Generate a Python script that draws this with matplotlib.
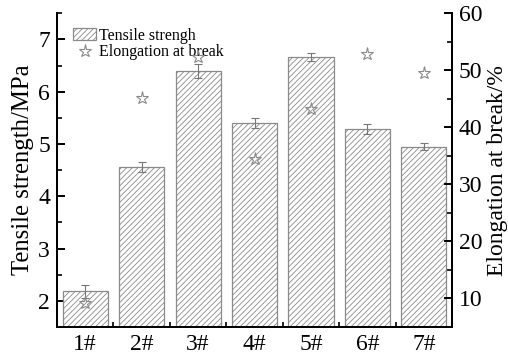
import matplotlib
matplotlib.use("Agg")
import matplotlib.pyplot as plt
from matplotlib.ticker import MultipleLocator, FixedLocator

plt.rcParams['font.family'] = ['Liberation Serif', 'DejaVu Serif']
plt.rcParams['hatch.color'] = '#8a8a8a'
plt.rcParams['hatch.linewidth'] = 0.6

samples = ['1#', '2#', '3#', '4#', '5#', '6#', '7#']
tensile = [2.18, 4.56, 6.40, 5.40, 6.67, 5.29, 4.95]
tensile_err = [0.12, 0.09, 0.14, 0.10, 0.08, 0.10, 0.07]
elongation = [9.2, 45.1, 52.4, 34.4, 43.3, 52.8, 49.6]

fig = plt.figure(figsize=(5.08, 3.55), dpi=100)
ax = fig.add_axes([0.1122, 0.0789, 0.7776, 0.8836])
ax2 = ax.twinx()

x = list(range(len(samples)))
bars = ax.bar(x, tensile, width=0.8, facecolor='white', edgecolor='#8a8a8a',
              linewidth=0.9, hatch='//////', label='Tensile strengh', zorder=2)
ax.errorbar(x, tensile, yerr=tensile_err, fmt='none', ecolor='#777777',
            elinewidth=0.8, capsize=3, capthick=0.8, zorder=3)

stars, = ax2.plot(x, elongation, linestyle='none', marker='*', markersize=9.5,
                  markerfacecolor='none', markeredgecolor='#8a8a8a',
                  markeredgewidth=0.8, label='Elongation at break', zorder=4)

ax.set_xlim(-0.5, 6.5)
ax.set_ylim(1.5, 7.5)
ax2.set_ylim(5, 60)

ax.set_xticks(x)
ax.set_xticklabels(samples)
ax.xaxis.set_minor_locator(FixedLocator([i + 0.5 for i in range(6)]))
ax.yaxis.set_major_locator(MultipleLocator(1))
ax.yaxis.set_minor_locator(MultipleLocator(0.5))
ax2.yaxis.set_major_locator(MultipleLocator(10))
ax2.yaxis.set_minor_locator(MultipleLocator(5))
ax2.set_yticks([10, 20, 30, 40, 50, 60])

for a in (ax, ax2):
    a.spines['top'].set_visible(False)
    for s in a.spines.values():
        s.set_linewidth(1.4)
    a.tick_params(which='major', direction='in', length=6, width=1.4,
                  labelsize=17)
    a.tick_params(which='minor', direction='in', length=3.5, width=1.2)
ax.tick_params(axis='y', right=False, which='both', pad=5)
ax.tick_params(axis='x', top=False, which='both', pad=5)
ax2.tick_params(axis='y', which='both', pad=5)
ax2.tick_params(axis='x', which='both', top=False, bottom=False)

ax.set_ylabel('Tensile strength/MPa', fontsize=17.8, labelpad=3)
ax2.set_ylabel('Elongation at break/%', fontsize=17, labelpad=3)

ax.legend([bars, stars], ['Tensile strengh', 'Elongation at break'],
          loc='upper left', bbox_to_anchor=(0.017, 0.985), frameon=False,
          fontsize=11.5, handlelength=1.45, handleheight=0.7,
          handletextpad=0.15, borderaxespad=0.2, labelspacing=0.05)

fig.savefig('out.png', dpi=100)
